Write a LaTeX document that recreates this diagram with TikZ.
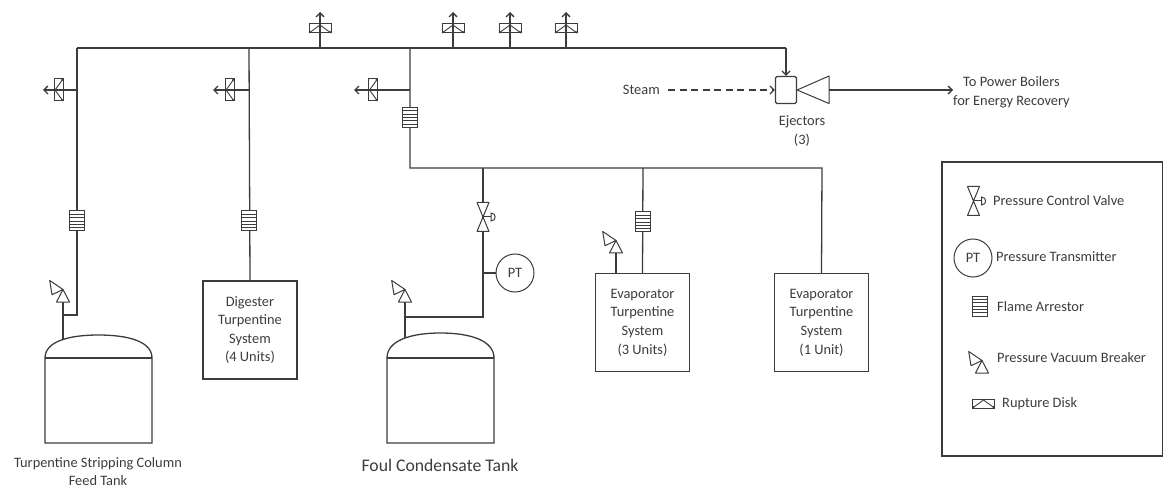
\documentclass[tikz,border=0pt]{standalone}
\usepackage{fontspec}
\setmainfont{Carlito}
\usetikzlibrary{arrows.meta}
\definecolor{ink}{RGB}{60,60,60}
\tikzset{
  pipe/.style={line width=1.3pt, draw=ink},
  thin/.style={line width=1pt, draw=ink},
  lbl/.style={text=ink, font=\fontsize{14.4}{18.6}\selectfont, inner sep=0pt, align=center},
  unitbox/.style={draw=ink, line width=1.2pt, minimum width=94pt, minimum height=98pt, align=center, text=ink, font=\fontsize{14.4}{18.6}\selectfont},
  flow/.style={pipe, -{Straight Barb[length=4pt,width=8pt]}},
  flamearr/.pic={
    \draw[thin, fill=white] (-7.5,-10) rectangle (7.5,10);
    \foreach \yy in {-6.67,-3.33,0,3.33,6.67}{\draw[line width=0.7pt, draw=ink] (-7.5,\yy) -- (7.5,\yy);}
  },
  pvbsym/.pic={
    \draw[thin, fill=white, line join=round] (-6.5,0) -- (6.5,0) -- (0,-12.5) -- cycle;
    \draw[thin, fill=white, line join=round] (0,-12.5) -- (-13.3,-21.5) -- (-11,-7.3) -- cycle;
  },
  pcvsym/.pic={
    \draw[thin, fill=white, line join=round] (-6,-14.5) -- (6,-14.5) -- (-6,14.5) -- (6,14.5) -- cycle;
    \draw[thin] (0,0) -- (8,0);
    \draw[thin] (8,-4) .. controls (13.5,-4) and (13.5,4) .. (8,4) -- cycle;
  },
  rdup/.pic={
    \draw[thin] (-11,-4.5) rectangle (11,4.5);
    \draw[line width=0.9pt, draw=ink] (-11,4.5) -- (0,-3.5) -- (11,4.5);
    \fill[ink] (-10,3.5) circle (1.2) (10,3.5) circle (1.2);
  },
  rdleft/.pic={
    \draw[thin] (-4.5,-11) rectangle (4.5,11);
    \draw[line width=0.9pt, draw=ink] (4.5,-11) -- (-3.5,0) -- (4.5,11);
    \fill[ink] (3.5,-10) circle (1.2) (3.5,10) circle (1.2);
  }
}
\begin{document}
\begin{tikzpicture}[x=1pt,y=-1pt]
\useasboundingbox (0,0) rectangle (1165,489);

% ---------- header coordinates ----------
\coordinate (hL) at (77,48);
\coordinate (hD) at (249,48);
\coordinate (hF) at (410,48);
\coordinate (hE) at (786,48);

% ---------- boxes ----------
\node[unitbox] (dig) at (250,330) {Digester\\Turpentine\\System\\(4 Units)};
\node[unitbox] (ev3) at (642.5,322.5) {Evaporator\\Turpentine\\System\\(3 Units)};
\node[unitbox] (ev1) at (821.5,322.5) {Evaporator\\Turpentine\\System\\(1 Unit)};

% ---------- ejector ----------
\node[draw=ink, line width=1.2pt, rounded corners=1.5pt, minimum width=21pt, minimum height=27pt, inner sep=0pt] (ej) at (786,90) {};
\coordinate (cone) at (829,90);
\node[lbl, anchor=west] (boil) at (953,92.5) {To Power Boilers\\for Energy Recovery};
\node[lbl, anchor=east] (steam) at (660,90) {Steam};
\node[lbl] (ejl) at (802,131) {Ejectors\\(3)};

\draw[pipe] (hL) -- (hE);
\draw[flow] (hE) -- (ej.north);
\draw[thin, line join=round] (ej.east) -- (829,76) -- (829,103.5) -- cycle;
\draw[flow] (cone) -- (cone -| boil.west);
\draw[flow, dash pattern=on 7pt off 4.5pt] ([xshift=8pt]steam.east) -- (ej.west);

% ---------- top rupture disks ----------
\foreach \xx in {320,453,510,566}{
  \coordinate (rb\xx) at (\xx,48);
  \coordinate (rt\xx) at (\xx,12);
  \draw[flow] (rb\xx) -- (rt\xx);
  \pic at (\xx,28.5) {rdup};
}

% ---------- side vents ----------
\coordinate (vL) at (77,90);   \coordinate (vLt) at (43,90);
\coordinate (vD) at (249,90);  \coordinate (vDt) at (213,90);
\coordinate (vF) at (410,90);  \coordinate (vFt) at (354,90);
\draw[flow] (vL) -- (vLt);  \pic at (58.5,90) {rdleft};
\draw[flow] (vD) -- (vDt);  \pic at (229.5,90) {rdleft};
\draw[flow] (vF) -- (vFt);  \pic at (373,90) {rdleft};

% ---------- left tank branch ----------
\coordinate (l1) at (77,315);
\coordinate (l2) at (63,315);
\coordinate (lp) at (63,302);
\coordinate (lt) at (63,350);
\draw[pipe] (hL) -- (l1) -- (l2);
\draw[pipe] (lp) -- (lt);
\pic at (77,221) {flamearr};
\pic at (lp) {pvbsym};

% ---------- digester branch ----------
\draw[pipe] (hD) -- (dig.north);
\pic at (249,221) {flamearr};

% ---------- foul / evaporator header ----------
\coordinate (f1) at (410,168);
\coordinate (f2) at (822,168);
\coordinate (f3) at (643,168);
\coordinate (f4) at (483,168);
\draw[pipe] (hF) -- (f1) -- (f2) -- (ev1.north);
\draw[pipe] (f3) -- (ev3.north);
\pic at (410,117.5) {flamearr};
\pic at (643,222) {flamearr};
\coordinate (e3p) at (616,253);
\draw[pipe] (e3p) -- (e3p |- ev3.north);
\pic at (e3p) {pvbsym};

% ---------- foul condensate tank branch ----------
\coordinate (c1) at (483,317);
\coordinate (c2) at (405,317);
\coordinate (cp) at (405,302);
\coordinate (ct) at (405,350);
\coordinate (cpt) at (483,273);
\node[circle, draw=ink, line width=1pt, minimum size=38pt, inner sep=0pt, lbl] (pt) at (515,273) {PT};
\draw[pipe] (f4) -- (c1) -- (c2);
\draw[pipe] (cp) -- (ct);
\draw[pipe] (cpt) -- (pt.west);
\pic at (483,217) {pcvsym};
\pic at (cp) {pvbsym};

% ---------- tanks ----------
\draw[pipe, fill=white] (45,443) -- (45,358) .. controls (45,341) and (70,335) .. (98.5,335) .. controls (127,335) and (152,341) .. (152,358) -- (152,443) -- cycle;
\draw[pipe] (45,358) -- (152,358);
\draw[pipe, fill=white] (387,443) -- (387,358) .. controls (387,340) and (412,333) .. (440.5,333) .. controls (469,333) and (494,340) .. (494,358) -- (494,443) -- cycle;
\draw[pipe] (387,358) -- (494,358);
\node[lbl] (tk1) at (98,471.5) {Turpentine Stripping Column\\Feed Tank};
\node[lbl, font=\fontsize{17.7}{21}\selectfont] (tk2) at (440,465) {Foul Condensate Tank};

% ---------- legend ----------
\draw[pipe, line width=1.1pt] (942,162) rectangle (1162.5,456);
\pic at (973.5,201) {pcvsym};
\node[lbl, anchor=west] (lg1) at (993,201) {Pressure Control Valve};
\node[circle, draw=ink, line width=1pt, minimum size=38pt, inner sep=0pt, lbl] (lpt) at (973,258) {PT};
\node[lbl, anchor=west] (lg2) at (996,257) {Pressure Transmitter};
\pic at (979.5,306) {flamearr};
\node[lbl, anchor=west] (lg3) at (997,307) {Flame Arrestor};
\pic at (982,373) {pvbsym};
\node[lbl, anchor=west] (lg4) at (997,358) {Pressure Vacuum Breaker};
\pic at (983.5,403.5) {rdup};
\node[lbl, anchor=west] (lg5) at (1002,404) {Rupture Disk};
\end{tikzpicture}
\end{document}
